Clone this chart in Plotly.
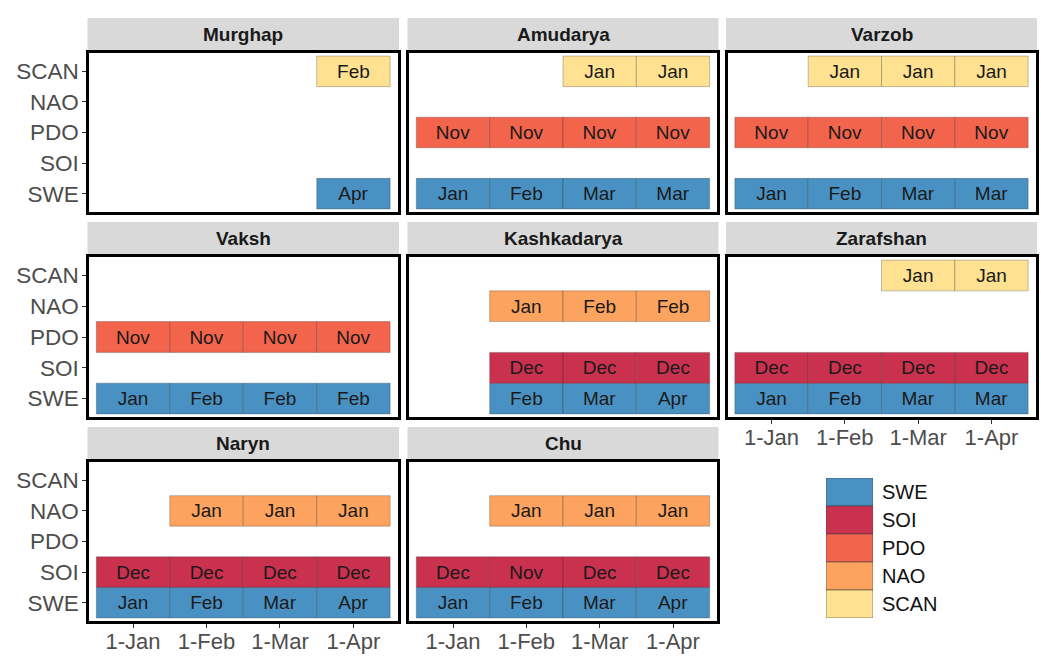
import plotly.graph_objects as go

# ---------------- data ----------------
X_LABELS = ['1-Jan', '1-Feb', '1-Mar', '1-Apr']
PREDICTORS = ['SWE', 'SOI', 'PDO', 'NAO', 'SCAN']
COLORS = ['#4A91C3', '#C9314F', '#F2644B', '#FCA35F', '#FEE191']

BASINS = ['Murghap', 'Amudarya', 'Varzob', 'Vaksh', 'Kashkadarya',
          'Zarafshan', 'Naryn', 'Chu']

MURGHAP = {'SCAN': [None, None, None, 'Feb'],
           'SWE': [None, None, None, 'Apr']}
AMUDARYA = {'SCAN': [None, None, 'Jan', 'Jan'],
            'PDO': ['Nov', 'Nov', 'Nov', 'Nov'],
            'SWE': ['Jan', 'Feb', 'Mar', 'Mar']}
VARZOB = {'SCAN': [None, 'Jan', 'Jan', 'Jan'],
          'PDO': ['Nov', 'Nov', 'Nov', 'Nov'],
          'SWE': ['Jan', 'Feb', 'Mar', 'Mar']}
VAKSH = {'PDO': ['Nov', 'Nov', 'Nov', 'Nov'],
         'SWE': ['Jan', 'Feb', 'Feb', 'Feb']}
KASHKADARYA = {'NAO': [None, 'Jan', 'Feb', 'Feb'],
               'SOI': [None, 'Dec', 'Dec', 'Dec'],
               'SWE': [None, 'Feb', 'Mar', 'Apr']}
ZARAFSHAN = {'SCAN': [None, None, 'Jan', 'Jan'],
             'SOI': ['Dec', 'Dec', 'Dec', 'Dec'],
             'SWE': ['Jan', 'Feb', 'Mar', 'Mar']}
NARYN = {'NAO': [None, 'Jan', 'Jan', 'Jan'],
         'SOI': ['Dec', 'Dec', 'Dec', 'Dec'],
         'SWE': ['Jan', 'Feb', 'Mar', 'Apr']}
CHU = {'NAO': [None, 'Jan', 'Jan', 'Jan'],
       'SOI': ['Dec', 'Nov', 'Dec', 'Dec'],
       'SWE': ['Jan', 'Feb', 'Mar', 'Apr']}

BASIN_DATA = [MURGHAP, AMUDARYA, VARZOB, VAKSH, KASHKADARYA, ZARAFSHAN, NARYN, CHU]

# ---------------- layout geometry (pixels) ----------------
W, H = 1041, 662
FONT = 'Liberation Sans, Arial, sans-serif'
COL_X = [(89, 397.5), (409, 717), (727.5, 1035.5)]
ROW_Y = [(53, 212), (257, 417), (462, 621)]


def fx(p):
    return p / W


def fy(p):
    return 1 - p / H


fig = go.Figure()
layout = {}
shapes = []
annotations = []

for k, (basin, data) in enumerate(zip(BASINS, BASIN_DATA)):
    r, c = divmod(k, 3)
    n = k + 1
    xa = 'x' if n == 1 else f'x{n}'
    ya = 'y' if n == 1 else f'y{n}'
    x0, x1 = COL_X[c]
    yt, yb = ROW_Y[r]

    for pi, pred in enumerate(PREDICTORS):
        vals = data.get(pred)
        if not vals:
            continue
        xs = [i + 1 for i, v in enumerate(vals) if v]
        txt = [v for v in vals if v]
        fig.add_trace(go.Bar(
            x=xs, y=[1] * len(xs), base=[pi + 0.5] * len(xs), width=1,
            text=txt, textposition='inside', insidetextanchor='middle',
            textangle=0,
            textfont=dict(size=19, color='#1A1A1A', family=FONT),
            marker=dict(color=COLORS[pi],
                        line=dict(color='rgba(40,40,40,0.35)', width=0.8)),
            xaxis=xa, yaxis=ya, showlegend=False, hoverinfo='skip'))

    bottom = basin in ('Zarafshan', 'Naryn', 'Chu')
    left = c == 0
    layout['xaxis' if n == 1 else f'xaxis{n}'] = dict(
        domain=[fx(x0), fx(x1)], anchor=ya, range=[0.4, 4.6],
        tickvals=[1, 2, 3, 4], ticktext=X_LABELS,
        showticklabels=bottom, ticks='outside' if bottom else '',
        ticklen=4, tickwidth=1.1, tickcolor='#333333', ticklabelstandoff=-5,
        tickfont=dict(size=22, color='#4D4D4D', family=FONT),
        showgrid=False, zeroline=False,
        showline=True, mirror=True, linecolor='black', linewidth=2.6)
    layout['yaxis' if n == 1 else f'yaxis{n}'] = dict(
        domain=[fy(yb), fy(yt)], anchor=xa, range=[0.4, 5.6],
        tickvals=[1, 2, 3, 4, 5], ticktext=PREDICTORS,
        showticklabels=left, ticks='outside' if left else '',
        ticklen=4, tickwidth=1.1, tickcolor='#333333', ticklabelstandoff=-1,
        tickfont=dict(size=22.5, color='#4D4D4D', family=FONT),
        showgrid=False, zeroline=False,
        showline=True, mirror=True, linecolor='black', linewidth=2.6)

    # facet strip
    shapes.append(dict(type='rect', xref='paper', yref='paper',
                       x0=fx(x0 - 1.5), x1=fx(x1 + 1.5),
                       y0=fy(yt - 2), y1=fy(yt - 35),
                       fillcolor='#D9D9D9', line=dict(width=0), layer='below'))
    annotations.append(dict(text=f'<b>{basin}</b>', xref='paper', yref='paper',
                            x=fx((x0 + x1) / 2), y=fy(yt - 18.5),
                            xanchor='center', yanchor='middle', showarrow=False,
                            font=dict(size=19, color='#1A1A1A', family=FONT)))

# ---------------- legend drawn as a small axis ----------------
for pi, pred in enumerate(PREDICTORS):
    fig.add_trace(go.Bar(
        x=[1], y=[1], base=[pi + 0.5], width=1,
        marker=dict(color=COLORS[pi], line=dict(color='rgba(60,60,60,0.55)', width=1)),
        xaxis='x9', yaxis='y9', showlegend=False, hoverinfo='skip'))

layout['xaxis9'] = dict(domain=[fx(826), fx(873)], anchor='y9', range=[0.5, 1.5],
                        showticklabels=False, showgrid=False, zeroline=False,
                        showline=False, ticks='')
layout['yaxis9'] = dict(domain=[fy(618), fy(478)], anchor='x9', range=[5.5, 0.5],
                        side='right', tickvals=[1, 2, 3, 4, 5], ticktext=PREDICTORS,
                        ticks='', ticklabelstandoff=8,
                        tickfont=dict(size=20, color='#111111', family=FONT),
                        showgrid=False, zeroline=False, showline=False)

fig.update_layout(
    width=W, height=H, margin=dict(l=0, r=0, t=0, b=0),
    paper_bgcolor='white', plot_bgcolor='white',
    barmode='overlay', shapes=shapes, annotations=annotations,
    font=dict(family=FONT), showlegend=False, **layout)

fig.write_html('out.html', config={'displayModeBar': False},
               post_script="document.body.style.margin='0';document.body.style.padding='0';document.body.style.overflow='hidden';")
